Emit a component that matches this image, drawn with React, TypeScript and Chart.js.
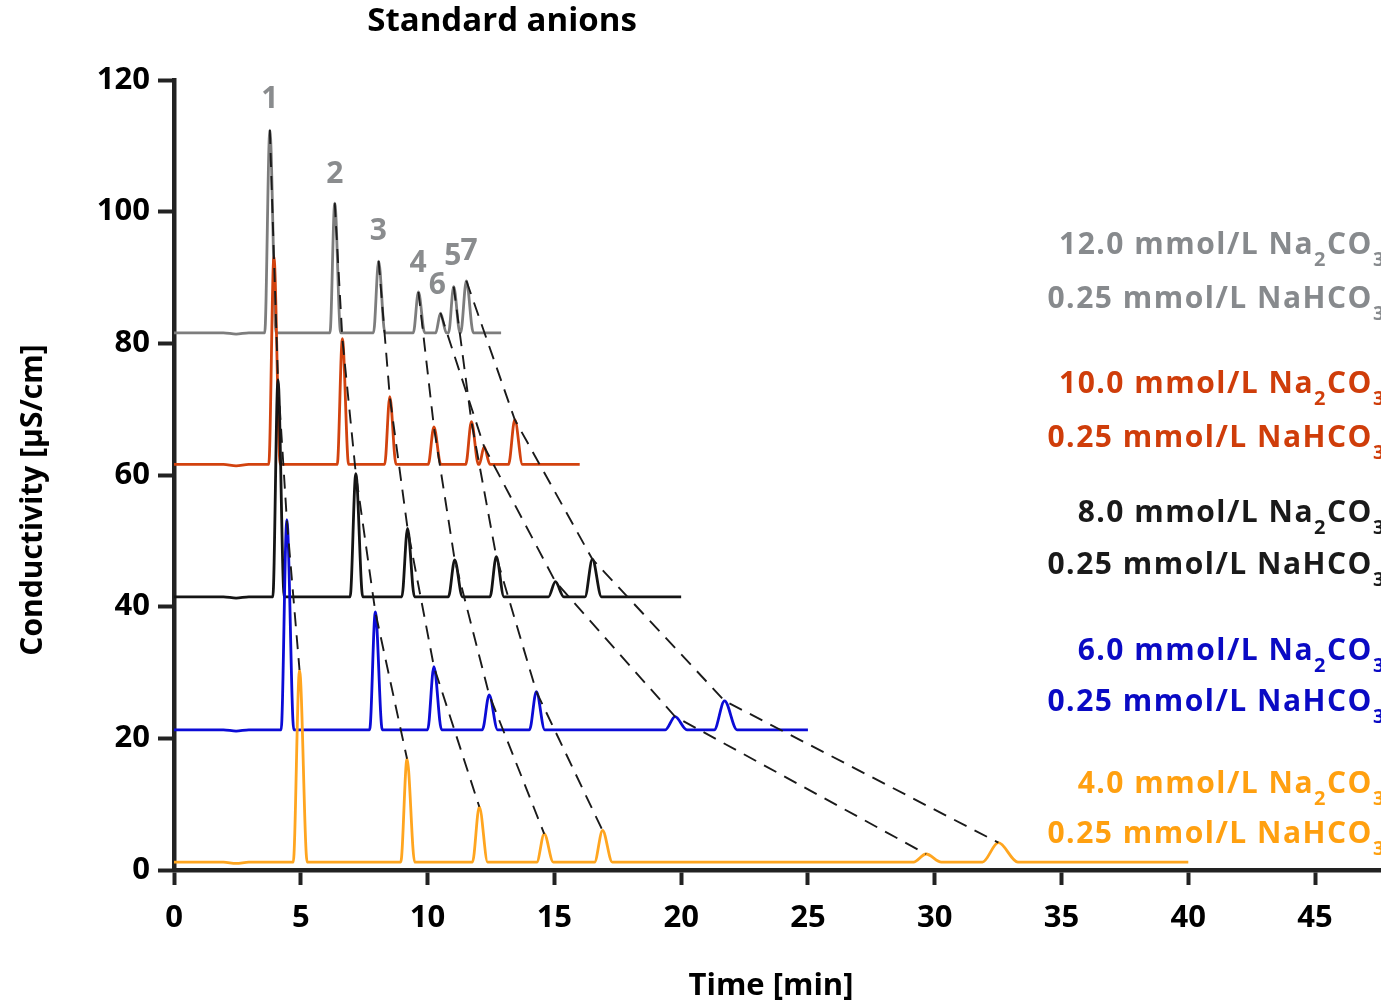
import React, { useEffect, useRef } from "react";
import { Chart, registerables } from "chart.js";

Chart.register(...registerables);

const FONT = "'Open Sans', 'Noto Sans', 'DejaVu Sans', sans-serif";

// ---- axis ticks ----
const xTicks = [0, 5, 10, 15, 20, 25, 30, 35, 40, 45];
const yTicks = [0, 20, 40, 60, 80, 100, 120];

// ---- eluents (top to bottom) ----
const na2co3Conc = ["12.0", "10.0", "8.0", "6.0", "4.0"];
const nahco3Conc = ["0.25", "0.25", "0.25", "0.25", "0.25"];
const traceColors = ["#7d7d7d", "#d2420e", "#141414", "#0b0bd6", "#ffa51f"];
const textColors = ["#878a8d", "#cf3d0a", "#1a1a1a", "#0a0ac4", "#ffa010"];
const baselines = [81.6, 61.6, 41.5, 21.3, 1.2];
const runEnds = [12.9, 16.0, 20.0, 25.0, 40.0];
const dipTime = 2.45;
const dipDepth = 0.2;

// ---- peaks 1..7 : retention time [min], apex [µS/cm], base width [min] ----
const times12 = [3.78, 6.34, 8.07, 9.64, 11.03, 10.51, 11.53];
const apex12 = [112.4, 101.3, 92.5, 87.8, 88.6, 84.6, 89.5];
const widths12 = [0.45, 0.42, 0.45, 0.45, 0.45, 0.42, 0.5];

const times10 = [3.94, 6.64, 8.51, 10.25, 11.73, 12.23, 13.44];
const apex10 = [93.2, 80.7, 71.9, 67.3, 68.1, 64.3, 68.4];
const widths10 = [0.45, 0.45, 0.45, 0.5, 0.5, 0.42, 0.55];

const times8 = [4.1, 7.17, 9.21, 11.07, 12.71, 15.04, 16.5];
const apex8 = [74.5, 60.2, 51.9, 47.1, 47.6, 43.8, 47.2];
const widths8 = [0.45, 0.5, 0.5, 0.55, 0.55, 0.6, 0.65];

const times6 = [4.45, 7.94, 10.25, 12.43, 14.29, 19.76, 21.71];
const apex6 = [53.2, 39.2, 30.9, 26.6, 27.1, 23.3, 25.7];
const widths6 = [0.5, 0.5, 0.55, 0.6, 0.6, 0.85, 0.9];

const times4 = [4.95, 9.19, 12.04, 14.6, 16.9, 29.66, 32.51];
const apex4 = [30.4, 16.9, 9.6, 5.5, 6.0, 2.43, 4.15];
const widths4 = [0.55, 0.55, 0.6, 0.65, 0.7, 1.1, 1.4];

// ---- peak number labels ----
const peakNames = ["1", "2", "3", "4", "6", "5", "7"];
const peakLabelX = [3.78, 6.34, 8.06, 9.63, 10.38, 11.0, 11.64];
const peakLabelY = [117.0, 105.6, 97.0, 92.1, 88.8, 93.2, 94.0];

const TITLE = "Standard anions";
const X_TITLE = "Time [min]";
const Y_TITLE = "Conductivity [µS/cm]";

const allTimes = [times12, times10, times8, times6, times4];
const allApex = [apex12, apex10, apex8, apex6, apex4];
const allWidths = [widths12, widths10, widths8, widths6, widths4];

function buildTrace(i: number) {
  const base = baselines[i];
  const pts: { x: number; y: number }[] = [
    { x: 0, y: base },
    { x: dipTime - 0.5, y: base },
    { x: dipTime, y: base - dipDepth },
    { x: dipTime + 0.5, y: base },
  ];
  allTimes[i].forEach((t, k) => {
    const w = allWidths[i][k];
    pts.push({ x: t - w * 0.45, y: base });
    pts.push({ x: t, y: allApex[i][k] });
    pts.push({ x: t + w * 0.55, y: base });
  });
  pts.push({ x: runEnds[i], y: base });
  pts.sort((a, b) => a.x - b.x);
  return pts;
}

function drawFormula(
  ctx: CanvasRenderingContext2D,
  parts: { t: string; sub?: boolean }[],
  anchorX: number,
  baseline: number,
  size: number,
  color: string
) {
  const mainFont = `bold ${size}px ${FONT}`;
  const subFont = `bold ${Math.round(size * 0.66)}px ${FONT}`;
  let w = 0;
  parts.forEach((p, idx) => {
    if (idx === parts.length - 1 && p.sub) return;
    ctx.font = p.sub ? subFont : mainFont;
    w += ctx.measureText(p.t).width;
  });
  let x = anchorX - w;
  ctx.fillStyle = color;
  ctx.textAlign = "left";
  ctx.textBaseline = "alphabetic";
  parts.forEach((p) => {
    ctx.font = p.sub ? subFont : mainFont;
    ctx.fillText(p.t, x, p.sub ? baseline + size * 0.4 : baseline);
    x += ctx.measureText(p.t).width;
  });
}

const labelBaselines = [
  [254, 308],
  [393, 447],
  [522, 574],
  [660, 711],
  [793, 843],
];

const textPlugin = {
  id: "textPlugin",
  afterDraw(chart: any) {
    const ctx: CanvasRenderingContext2D = chart.ctx;
    const xs = chart.scales.x;
    const ys = chart.scales.y;
    ctx.save();
    ctx.fillStyle = "#000";
    ctx.textAlign = "center";
    ctx.textBaseline = "middle";
    ctx.font = `bold 33px ${FONT}`;
    ctx.fillText(TITLE, 502, 22);
    ctx.font = `bold 31px ${FONT}`;
    ctx.fillText(X_TITLE, 771, 986);
    ctx.save();
    ctx.translate(33, 500);
    ctx.rotate(-Math.PI / 2);
    ctx.font = `bold 30px ${FONT}`;
    ctx.fillText(Y_TITLE, 0, 0);
    ctx.restore();
    ctx.fillStyle = "#8a8c8e";
    ctx.font = `bold 30px ${FONT}`;
    peakNames.forEach((n, k) => {
      ctx.fillText(n, xs.getPixelForValue(peakLabelX[k]), ys.getPixelForValue(peakLabelY[k]));
    });
    (ctx as any).letterSpacing = "1.5px";
    na2co3Conc.forEach((c, i) => {
      drawFormula(
        ctx,
        [{ t: `${c} mmol/L Na` }, { t: "2", sub: true }, { t: "CO" }, { t: "3", sub: true }],
        1373,
        labelBaselines[i][0],
        30,
        textColors[i]
      );
      drawFormula(
        ctx,
        [{ t: `${nahco3Conc[i]} mmol/L NaHCO` }, { t: "3", sub: true }],
        1373,
        labelBaselines[i][1],
        30,
        textColors[i]
      );
    });
    ctx.restore();
  },
};

export default function App() {
  const ref = useRef<HTMLCanvasElement | null>(null);
  useEffect(() => {
    document.body.style.margin = "0";
    if (!ref.current) return;
    const traceSets = [0, 1, 2, 3, 4].map((i) => ({
      label: `${na2co3Conc[i]} mmol/L Na2CO3`,
      data: buildTrace(i),
      borderColor: traceColors[i],
      borderWidth: 2.8,
      pointRadius: 0,
      cubicInterpolationMode: "monotone" as const,
      order: 5 - i,
      fill: false,
    }));
    const connectorSets = [0, 1, 2, 3, 4, 5, 6].map((k) => ({
      label: `peak ${k + 1}`,
      data: [0, 1, 2, 3, 4].map((i) => ({ x: allTimes[i][k], y: allApex[i][k] })),
      borderColor: "#1a1a1a",
      borderWidth: 1.9,
      borderDash: [14, 9],
      pointRadius: 0,
      tension: 0,
      order: 0,
      fill: false,
    }));
    const tickFont = { family: FONT, size: 31, weight: "bold" as const };
    const chart = new Chart(ref.current, {
      type: "line",
      data: { datasets: [...connectorSets, ...traceSets] as any },
      options: {
        animation: false,
        responsive: false,
        layout: { padding: { top: 80, left: 0, right: 0, bottom: 0 } },
        plugins: { legend: { display: false }, tooltip: { enabled: false } },
        scales: {
          x: {
            type: "linear",
            min: 0,
            max: 47.6,
            afterBuildTicks: (s: any) => {
              s.ticks = xTicks.map((v) => ({ value: v }));
            },
            afterFit: (s: any) => {
              s.height = 133;
            },
            ticks: { color: "#000", font: tickFont, padding: 15, maxRotation: 0, autoSkip: false },
            grid: { drawOnChartArea: false, drawTicks: true, tickLength: 15, tickWidth: 4, tickColor: "#222" },
            border: { display: true, width: 4.5, color: "#222" },
          },
          y: {
            type: "linear",
            min: 0,
            max: 120,
            afterBuildTicks: (s: any) => {
              s.ticks = yTicks.map((v) => ({ value: v }));
            },
            afterFit: (s: any) => {
              s.width = 174;
            },
            ticks: { color: "#000", font: tickFont, padding: 8 },
            grid: { drawOnChartArea: false, drawTicks: true, tickLength: 16, tickWidth: 4, tickColor: "#222" },
            border: { display: true, width: 4.5, color: "#222" },
          },
        },
      },
      plugins: [textPlugin],
    });
    return () => chart.destroy();
  }, []);
  return (
    <div style={{ width: 1381, height: 1003, background: "#fff" }}>
      <canvas ref={ref} width={1381} height={1003} />
    </div>
  );
}
